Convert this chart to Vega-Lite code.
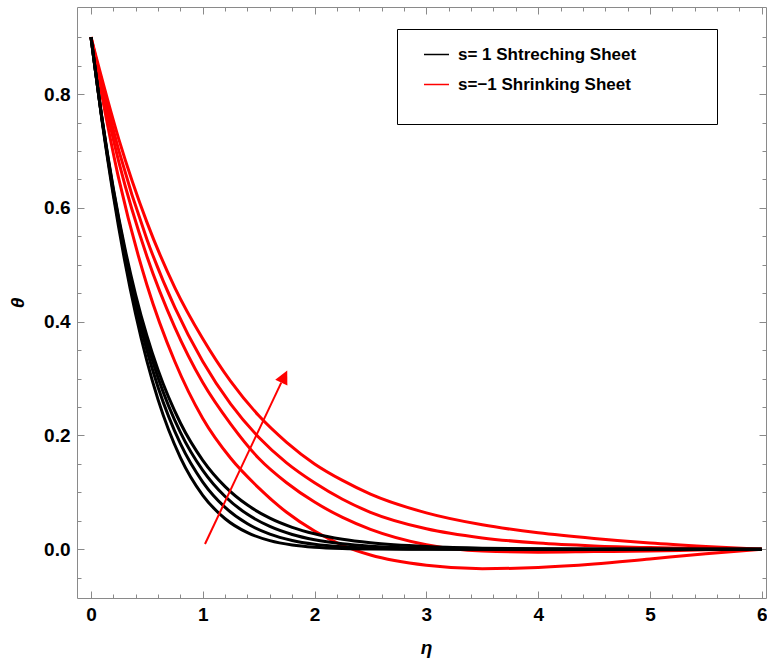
{
  "$schema": "https://vega.github.io/schema/vega-lite/v6.json",
  "autosize": {"type": "none"},
  "padding": {"left": 77, "top": 7, "right": 1, "bottom": 64},
  "width": 689,
  "height": 591,
  "background": "white",
  "datasets": {
    "curves": [
      {"eta": 0, "theta": 0.9, "curve": "R1", "s": "s=\u22121 Shrinking Sheet"},
      {"eta": 0.25, "theta": 0.65, "curve": "R1", "s": "s=\u22121 Shrinking Sheet"},
      {"eta": 0.5, "theta": 0.465, "curve": "R1", "s": "s=\u22121 Shrinking Sheet"},
      {"eta": 0.75, "theta": 0.33, "curve": "R1", "s": "s=\u22121 Shrinking Sheet"},
      {"eta": 1, "theta": 0.23, "curve": "R1", "s": "s=\u22121 Shrinking Sheet"},
      {"eta": 1.25, "theta": 0.16, "curve": "R1", "s": "s=\u22121 Shrinking Sheet"},
      {"eta": 1.5, "theta": 0.108, "curve": "R1", "s": "s=\u22121 Shrinking Sheet"},
      {"eta": 1.75, "theta": 0.065, "curve": "R1", "s": "s=\u22121 Shrinking Sheet"},
      {"eta": 2, "theta": 0.032, "curve": "R1", "s": "s=\u22121 Shrinking Sheet"},
      {"eta": 2.25, "theta": 0.007, "curve": "R1", "s": "s=\u22121 Shrinking Sheet"},
      {"eta": 2.5, "theta": -0.01, "curve": "R1", "s": "s=\u22121 Shrinking Sheet"},
      {"eta": 3, "theta": -0.028, "curve": "R1", "s": "s=\u22121 Shrinking Sheet"},
      {"eta": 3.5, "theta": -0.034, "curve": "R1", "s": "s=\u22121 Shrinking Sheet"},
      {"eta": 4, "theta": -0.032, "curve": "R1", "s": "s=\u22121 Shrinking Sheet"},
      {"eta": 4.5, "theta": -0.026, "curve": "R1", "s": "s=\u22121 Shrinking Sheet"},
      {"eta": 5, "theta": -0.017, "curve": "R1", "s": "s=\u22121 Shrinking Sheet"},
      {"eta": 5.5, "theta": -0.008, "curve": "R1", "s": "s=\u22121 Shrinking Sheet"},
      {"eta": 6, "theta": 0, "curve": "R1", "s": "s=\u22121 Shrinking Sheet"},

      {"eta": 0, "theta": 0.9, "curve": "R2", "s": "s=\u22121 Shrinking Sheet"},
      {"eta": 0.25, "theta": 0.68, "curve": "R2", "s": "s=\u22121 Shrinking Sheet"},
      {"eta": 0.5, "theta": 0.515, "curve": "R2", "s": "s=\u22121 Shrinking Sheet"},
      {"eta": 0.75, "theta": 0.39, "curve": "R2", "s": "s=\u22121 Shrinking Sheet"},
      {"eta": 1, "theta": 0.293, "curve": "R2", "s": "s=\u22121 Shrinking Sheet"},
      {"eta": 1.25, "theta": 0.22, "curve": "R2", "s": "s=\u22121 Shrinking Sheet"},
      {"eta": 1.5, "theta": 0.16, "curve": "R2", "s": "s=\u22121 Shrinking Sheet"},
      {"eta": 1.75, "theta": 0.117, "curve": "R2", "s": "s=\u22121 Shrinking Sheet"},
      {"eta": 2, "theta": 0.083, "curve": "R2", "s": "s=\u22121 Shrinking Sheet"},
      {"eta": 2.25, "theta": 0.056, "curve": "R2", "s": "s=\u22121 Shrinking Sheet"},
      {"eta": 2.5, "theta": 0.035, "curve": "R2", "s": "s=\u22121 Shrinking Sheet"},
      {"eta": 3, "theta": 0.008, "curve": "R2", "s": "s=\u22121 Shrinking Sheet"},
      {"eta": 3.5, "theta": -0.003, "curve": "R2", "s": "s=\u22121 Shrinking Sheet"},
      {"eta": 4, "theta": -0.005, "curve": "R2", "s": "s=\u22121 Shrinking Sheet"},
      {"eta": 4.5, "theta": -0.004, "curve": "R2", "s": "s=\u22121 Shrinking Sheet"},
      {"eta": 5, "theta": -0.003, "curve": "R2", "s": "s=\u22121 Shrinking Sheet"},
      {"eta": 5.5, "theta": -0.001, "curve": "R2", "s": "s=\u22121 Shrinking Sheet"},
      {"eta": 6, "theta": 0, "curve": "R2", "s": "s=\u22121 Shrinking Sheet"},

      {"eta": 0, "theta": 0.9, "curve": "R3", "s": "s=\u22121 Shrinking Sheet"},
      {"eta": 0.25, "theta": 0.70, "curve": "R3", "s": "s=\u22121 Shrinking Sheet"},
      {"eta": 0.5, "theta": 0.545, "curve": "R3", "s": "s=\u22121 Shrinking Sheet"},
      {"eta": 0.75, "theta": 0.425, "curve": "R3", "s": "s=\u22121 Shrinking Sheet"},
      {"eta": 1, "theta": 0.33, "curve": "R3", "s": "s=\u22121 Shrinking Sheet"},
      {"eta": 1.25, "theta": 0.255, "curve": "R3", "s": "s=\u22121 Shrinking Sheet"},
      {"eta": 1.5, "theta": 0.197, "curve": "R3", "s": "s=\u22121 Shrinking Sheet"},
      {"eta": 1.75, "theta": 0.152, "curve": "R3", "s": "s=\u22121 Shrinking Sheet"},
      {"eta": 2, "theta": 0.117, "curve": "R3", "s": "s=\u22121 Shrinking Sheet"},
      {"eta": 2.25, "theta": 0.088, "curve": "R3", "s": "s=\u22121 Shrinking Sheet"},
      {"eta": 2.5, "theta": 0.065, "curve": "R3", "s": "s=\u22121 Shrinking Sheet"},
      {"eta": 3, "theta": 0.036, "curve": "R3", "s": "s=\u22121 Shrinking Sheet"},
      {"eta": 3.5, "theta": 0.02, "curve": "R3", "s": "s=\u22121 Shrinking Sheet"},
      {"eta": 4, "theta": 0.011, "curve": "R3", "s": "s=\u22121 Shrinking Sheet"},
      {"eta": 4.5, "theta": 0.006, "curve": "R3", "s": "s=\u22121 Shrinking Sheet"},
      {"eta": 5, "theta": 0.003, "curve": "R3", "s": "s=\u22121 Shrinking Sheet"},
      {"eta": 5.5, "theta": 0.001, "curve": "R3", "s": "s=\u22121 Shrinking Sheet"},
      {"eta": 6, "theta": 0, "curve": "R3", "s": "s=\u22121 Shrinking Sheet"},

      {"eta": 0, "theta": 0.9, "curve": "R4", "s": "s=\u22121 Shrinking Sheet"},
      {"eta": 0.25, "theta": 0.72, "curve": "R4", "s": "s=\u22121 Shrinking Sheet"},
      {"eta": 0.5, "theta": 0.575, "curve": "R4", "s": "s=\u22121 Shrinking Sheet"},
      {"eta": 0.75, "theta": 0.46, "curve": "R4", "s": "s=\u22121 Shrinking Sheet"},
      {"eta": 1, "theta": 0.37, "curve": "R4", "s": "s=\u22121 Shrinking Sheet"},
      {"eta": 1.25, "theta": 0.295, "curve": "R4", "s": "s=\u22121 Shrinking Sheet"},
      {"eta": 1.5, "theta": 0.235, "curve": "R4", "s": "s=\u22121 Shrinking Sheet"},
      {"eta": 1.75, "theta": 0.188, "curve": "R4", "s": "s=\u22121 Shrinking Sheet"},
      {"eta": 2, "theta": 0.15, "curve": "R4", "s": "s=\u22121 Shrinking Sheet"},
      {"eta": 2.25, "theta": 0.121, "curve": "R4", "s": "s=\u22121 Shrinking Sheet"},
      {"eta": 2.5, "theta": 0.097, "curve": "R4", "s": "s=\u22121 Shrinking Sheet"},
      {"eta": 3, "theta": 0.064, "curve": "R4", "s": "s=\u22121 Shrinking Sheet"},
      {"eta": 3.5, "theta": 0.043, "curve": "R4", "s": "s=\u22121 Shrinking Sheet"},
      {"eta": 4, "theta": 0.029, "curve": "R4", "s": "s=\u22121 Shrinking Sheet"},
      {"eta": 4.5, "theta": 0.019, "curve": "R4", "s": "s=\u22121 Shrinking Sheet"},
      {"eta": 5, "theta": 0.011, "curve": "R4", "s": "s=\u22121 Shrinking Sheet"},
      {"eta": 5.5, "theta": 0.005, "curve": "R4", "s": "s=\u22121 Shrinking Sheet"},
      {"eta": 6, "theta": 0, "curve": "R4", "s": "s=\u22121 Shrinking Sheet"},

      {"eta": 0, "theta": 0.9, "curve": "B1", "s": "s= 1 Shtreching Sheet"},
      {"eta": 0.1, "theta": 0.7556, "curve": "B1", "s": "s= 1 Shtreching Sheet"},
      {"eta": 0.2, "theta": 0.6342, "curve": "B1", "s": "s= 1 Shtreching Sheet"},
      {"eta": 0.3, "theta": 0.5324, "curve": "B1", "s": "s= 1 Shtreching Sheet"},
      {"eta": 0.4, "theta": 0.4469, "curve": "B1", "s": "s= 1 Shtreching Sheet"},
      {"eta": 0.5, "theta": 0.3752, "curve": "B1", "s": "s= 1 Shtreching Sheet"},
      {"eta": 0.6, "theta": 0.3149, "curve": "B1", "s": "s= 1 Shtreching Sheet"},
      {"eta": 0.8, "theta": 0.2219, "curve": "B1", "s": "s= 1 Shtreching Sheet"},
      {"eta": 1.0, "theta": 0.1564, "curve": "B1", "s": "s= 1 Shtreching Sheet"},
      {"eta": 1.2, "theta": 0.1102, "curve": "B1", "s": "s= 1 Shtreching Sheet"},
      {"eta": 1.4, "theta": 0.0777, "curve": "B1", "s": "s= 1 Shtreching Sheet"},
      {"eta": 1.6, "theta": 0.0547, "curve": "B1", "s": "s= 1 Shtreching Sheet"},
      {"eta": 1.8, "theta": 0.0386, "curve": "B1", "s": "s= 1 Shtreching Sheet"},
      {"eta": 2.0, "theta": 0.0272, "curve": "B1", "s": "s= 1 Shtreching Sheet"},
      {"eta": 2.25, "theta": 0.0175, "curve": "B1", "s": "s= 1 Shtreching Sheet"},
      {"eta": 2.5, "theta": 0.0113, "curve": "B1", "s": "s= 1 Shtreching Sheet"},
      {"eta": 3, "theta": 0.0047, "curve": "B1", "s": "s= 1 Shtreching Sheet"},
      {"eta": 3.5, "theta": 0.002, "curve": "B1", "s": "s= 1 Shtreching Sheet"},
      {"eta": 4, "theta": 0.0008, "curve": "B1", "s": "s= 1 Shtreching Sheet"},
      {"eta": 5, "theta": 0.0001, "curve": "B1", "s": "s= 1 Shtreching Sheet"},
      {"eta": 6, "theta": 0, "curve": "B1", "s": "s= 1 Shtreching Sheet"},

      {"eta": 0, "theta": 0.9, "curve": "B2", "s": "s= 1 Shtreching Sheet"},
      {"eta": 0.1, "theta": 0.7546, "curve": "B2", "s": "s= 1 Shtreching Sheet"},
      {"eta": 0.2, "theta": 0.6312, "curve": "B2", "s": "s= 1 Shtreching Sheet"},
      {"eta": 0.3, "theta": 0.5267, "curve": "B2", "s": "s= 1 Shtreching Sheet"},
      {"eta": 0.4, "theta": 0.4385, "curve": "B2", "s": "s= 1 Shtreching Sheet"},
      {"eta": 0.5, "theta": 0.3641, "curve": "B2", "s": "s= 1 Shtreching Sheet"},
      {"eta": 0.6, "theta": 0.3016, "curve": "B2", "s": "s= 1 Shtreching Sheet"},
      {"eta": 0.8, "theta": 0.2055, "curve": "B2", "s": "s= 1 Shtreching Sheet"},
      {"eta": 1.0, "theta": 0.1387, "curve": "B2", "s": "s= 1 Shtreching Sheet"},
      {"eta": 1.2, "theta": 0.0927, "curve": "B2", "s": "s= 1 Shtreching Sheet"},
      {"eta": 1.4, "theta": 0.0614, "curve": "B2", "s": "s= 1 Shtreching Sheet"},
      {"eta": 1.6, "theta": 0.0402, "curve": "B2", "s": "s= 1 Shtreching Sheet"},
      {"eta": 1.8, "theta": 0.0261, "curve": "B2", "s": "s= 1 Shtreching Sheet"},
      {"eta": 2.0, "theta": 0.0168, "curve": "B2", "s": "s= 1 Shtreching Sheet"},
      {"eta": 2.25, "theta": 0.0096, "curve": "B2", "s": "s= 1 Shtreching Sheet"},
      {"eta": 2.5, "theta": 0.0053, "curve": "B2", "s": "s= 1 Shtreching Sheet"},
      {"eta": 3, "theta": 0.0016, "curve": "B2", "s": "s= 1 Shtreching Sheet"},
      {"eta": 3.5, "theta": 0.0004, "curve": "B2", "s": "s= 1 Shtreching Sheet"},
      {"eta": 4, "theta": 0.0001, "curve": "B2", "s": "s= 1 Shtreching Sheet"},
      {"eta": 5, "theta": 0, "curve": "B2", "s": "s= 1 Shtreching Sheet"},
      {"eta": 6, "theta": 0, "curve": "B2", "s": "s= 1 Shtreching Sheet"},

      {"eta": 0, "theta": 0.9, "curve": "B3", "s": "s= 1 Shtreching Sheet"},
      {"eta": 0.1, "theta": 0.7534, "curve": "B3", "s": "s= 1 Shtreching Sheet"},
      {"eta": 0.2, "theta": 0.6271, "curve": "B3", "s": "s= 1 Shtreching Sheet"},
      {"eta": 0.3, "theta": 0.5191, "curve": "B3", "s": "s= 1 Shtreching Sheet"},
      {"eta": 0.4, "theta": 0.4273, "curve": "B3", "s": "s= 1 Shtreching Sheet"},
      {"eta": 0.5, "theta": 0.3498, "curve": "B3", "s": "s= 1 Shtreching Sheet"},
      {"eta": 0.6, "theta": 0.2848, "curve": "B3", "s": "s= 1 Shtreching Sheet"},
      {"eta": 0.8, "theta": 0.1855, "curve": "B3", "s": "s= 1 Shtreching Sheet"},
      {"eta": 1.0, "theta": 0.1182, "curve": "B3", "s": "s= 1 Shtreching Sheet"},
      {"eta": 1.2, "theta": 0.0736, "curve": "B3", "s": "s= 1 Shtreching Sheet"},
      {"eta": 1.4, "theta": 0.0448, "curve": "B3", "s": "s= 1 Shtreching Sheet"},
      {"eta": 1.6, "theta": 0.0267, "curve": "B3", "s": "s= 1 Shtreching Sheet"},
      {"eta": 1.8, "theta": 0.0156, "curve": "B3", "s": "s= 1 Shtreching Sheet"},
      {"eta": 2.0, "theta": 0.0089, "curve": "B3", "s": "s= 1 Shtreching Sheet"},
      {"eta": 2.25, "theta": 0.0043, "curve": "B3", "s": "s= 1 Shtreching Sheet"},
      {"eta": 2.5, "theta": 0.002, "curve": "B3", "s": "s= 1 Shtreching Sheet"},
      {"eta": 3, "theta": 0.0004, "curve": "B3", "s": "s= 1 Shtreching Sheet"},
      {"eta": 4, "theta": 0, "curve": "B3", "s": "s= 1 Shtreching Sheet"},
      {"eta": 6, "theta": 0, "curve": "B3", "s": "s= 1 Shtreching Sheet"},

      {"eta": 0, "theta": 0.9, "curve": "B4", "s": "s= 1 Shtreching Sheet"},
      {"eta": 0.1, "theta": 0.7518, "curve": "B4", "s": "s= 1 Shtreching Sheet"},
      {"eta": 0.2, "theta": 0.6217, "curve": "B4", "s": "s= 1 Shtreching Sheet"},
      {"eta": 0.3, "theta": 0.509, "curve": "B4", "s": "s= 1 Shtreching Sheet"},
      {"eta": 0.4, "theta": 0.4126, "curve": "B4", "s": "s= 1 Shtreching Sheet"},
      {"eta": 0.5, "theta": 0.3311, "curve": "B4", "s": "s= 1 Shtreching Sheet"},
      {"eta": 0.6, "theta": 0.2631, "curve": "B4", "s": "s= 1 Shtreching Sheet"},
      {"eta": 0.8, "theta": 0.1612, "curve": "B4", "s": "s= 1 Shtreching Sheet"},
      {"eta": 1.0, "theta": 0.0949, "curve": "B4", "s": "s= 1 Shtreching Sheet"},
      {"eta": 1.2, "theta": 0.0537, "curve": "B4", "s": "s= 1 Shtreching Sheet"},
      {"eta": 1.4, "theta": 0.0292, "curve": "B4", "s": "s= 1 Shtreching Sheet"},
      {"eta": 1.6, "theta": 0.0152, "curve": "B4", "s": "s= 1 Shtreching Sheet"},
      {"eta": 1.8, "theta": 0.0076, "curve": "B4", "s": "s= 1 Shtreching Sheet"},
      {"eta": 2.0, "theta": 0.0037, "curve": "B4", "s": "s= 1 Shtreching Sheet"},
      {"eta": 2.25, "theta": 0.0014, "curve": "B4", "s": "s= 1 Shtreching Sheet"},
      {"eta": 2.5, "theta": 0.0005, "curve": "B4", "s": "s= 1 Shtreching Sheet"},
      {"eta": 3, "theta": 0, "curve": "B4", "s": "s= 1 Shtreching Sheet"},
      {"eta": 6, "theta": 0, "curve": "B4", "s": "s= 1 Shtreching Sheet"}
    ],
    "arrow": [
      {"x": 1.02, "y": 0.0093, "x2": 1.702, "y2": 0.293}
    ],
    "head": [
      {"x": 1.729, "y": 0.3035}
    ]
  },
  "layer": [
    {
      "data": {"name": "curves"},
      "mark": {"type": "line", "strokeWidth": 3, "interpolate": "monotone", "clip": true},
      "encoding": {
        "x": {
          "field": "eta", "type": "quantitative",
          "scale": {"domain": [-0.125, 6.038], "nice": false, "zero": false},
          "axis": {
            "orient": "bottom",
            "values": [0,0.2,0.4,0.6,0.8,1,1.2,1.4,1.6,1.8,2,2.2,2.4,2.6,2.8,3,3.2,3.4,3.6,3.8,4,4.2,4.4,4.6,4.8,5,5.2,5.4,5.6,5.8,6],
            "labelExpr": "abs(datum.value - round(datum.value)) < 0.001 ? format(datum.value, 'd') : ''",
            "tickSize": {"condition": {"test": "abs(datum.value - round(datum.value)) < 0.001", "value": -7}, "value": -4},
            "labelPadding": 14,
            "title": "η",
            "titleX": 349,
            "titleY": 49,
            "titleAlign": "center",
            "titleBaseline": "middle"
          }
        },
        "y": {
          "field": "theta", "type": "quantitative",
          "scale": {"domain": [-0.0856, 0.953], "nice": false, "zero": false},
          "axis": {
            "orient": "left",
            "values": [-0.05,0,0.05,0.1,0.15,0.2,0.25,0.3,0.35,0.4,0.45,0.5,0.55,0.6,0.65,0.7,0.75,0.8,0.85,0.9],
            "labelExpr": "abs(datum.value*5 - round(datum.value*5)) < 0.001 ? format(datum.value, '.1f') : ''",
            "tickSize": {"condition": {"test": "abs(datum.value*5 - round(datum.value*5)) < 0.001", "value": -7}, "value": -4},
            "labelPadding": 14,
            "title": "θ",
            "titleX": -59.5,
            "titleY": 295.5,
            "titleAngle": 270,
            "titleAlign": "center",
            "titleBaseline": "middle"
          }
        },
        "color": {
          "field": "s", "type": "nominal",
          "scale": {"domain": ["s= 1 Shtreching Sheet", "s=\u22121 Shrinking Sheet"], "range": ["#000000", "#ff0000"]},
          "legend": {
            "orient": "none",
            "legendX": 320,
            "legendY": 22,
            "title": "\u2800\u2800\u2800\u2800\u2800\u2800\u2800\u2800\u2800\u2800\u2800\u2800\u2800\u2800\u2800\u2800\u2800\u2800\u2800\u2800\u2800\u2800\u2800\u2800\u2800\u2800\u2800\u2800\u2800\u2800",
            "titleOrient": "bottom",
            "titleFont": "DejaVu Sans",
            "titleFontSize": 12.6,
            "titleLimit": 600,
            "titlePadding": 5.5,
            "strokeColor": "#000000",
            "fillColor": "#ffffff",
            "padding": 12,
            "symbolType": "stroke",
            "symbolSize": 625,
            "symbolStrokeWidth": 1.5,
            "symbolOffset": 14,
            "labelOffset": 8,
            "labelFont": "Liberation Sans",
            "labelFontWeight": "bold",
            "labelFontSize": 17,
            "labelColor": "#000000",
            "labelLimit": 500,
            "rowPadding": 8
          }
        },
        "detail": {"field": "curve", "type": "nominal"}
      }
    },
    {
      "data": {"name": "arrow"},
      "mark": {"type": "rule", "color": "#ff0000", "strokeWidth": 2},
      "encoding": {
        "x": {
          "field": "x", "type": "quantitative",
          "axis": {
            "orient": "top",
            "values": [0,0.2,0.4,0.6,0.8,1,1.2,1.4,1.6,1.8,2,2.2,2.4,2.6,2.8,3,3.2,3.4,3.6,3.8,4,4.2,4.4,4.6,4.8,5,5.2,5.4,5.6,5.8,6],
            "labels": false,
            "tickSize": {"condition": {"test": "abs(datum.value - round(datum.value)) < 0.001", "value": -7}, "value": -4},
            "title": null
          }
        },
        "y": {
          "field": "y", "type": "quantitative",
          "axis": {
            "orient": "right",
            "values": [-0.05,0,0.05,0.1,0.15,0.2,0.25,0.3,0.35,0.4,0.45,0.5,0.55,0.6,0.65,0.7,0.75,0.8,0.85,0.9],
            "labels": false,
            "tickSize": {"condition": {"test": "abs(datum.value*5 - round(datum.value*5)) < 0.001", "value": -7}, "value": -4},
            "title": null
          }
        },
        "x2": {"field": "x2"},
        "y2": {"field": "y2"}
      }
    },
    {
      "data": {"name": "head"},
      "mark": {"type": "point", "shape": "M0,-1L1,1L-1,1Z", "filled": true, "color": "#ff0000", "opacity": 1, "size": 182, "angle": 26},
      "encoding": {
        "x": {"field": "x", "type": "quantitative", "axis": null},
        "y": {"field": "y", "type": "quantitative", "axis": null}
      }
    }
  ],
  "resolve": {"axis": {"x": "independent", "y": "independent"}},
  "config": {
    "view": {"stroke": "#8a8a8a", "strokeWidth": 1},
    "axis": {
      "domain": false,
      "grid": false,
      "tickColor": "#8a8a8a",
      "tickWidth": 1,
      "labelFont": "Liberation Sans",
      "labelFontWeight": "bold",
      "labelFontSize": 19,
      "labelColor": "#000000",
      "labelOverlap": false,
      "labelFlush": false,
      "titleFont": "Liberation Sans",
      "titleFontWeight": "bold",
      "titleFontStyle": "italic",
      "titleFontSize": 19,
      "titleColor": "#000000"
    }
  }
}
